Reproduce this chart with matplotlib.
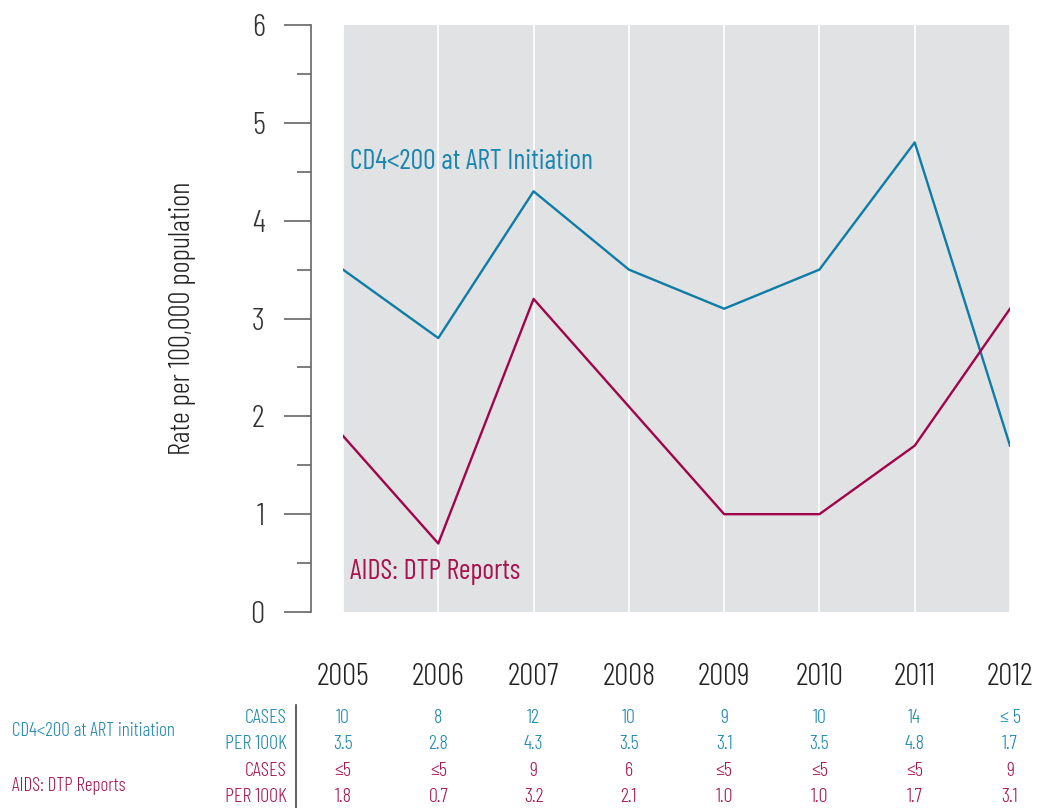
import matplotlib
matplotlib.use('Agg')
import matplotlib.pyplot as plt
import matplotlib.transforms as mtransforms
from matplotlib.ticker import MultipleLocator

plt.rcParams['font.family'] = ['Barlow Condensed', 'DejaVu Sans']
plt.rcParams['font.weight'] = 300

years = [2005, 2006, 2007, 2008, 2009, 2010, 2011, 2012]
cd4_rate = [3.5, 2.8, 4.3, 3.5, 3.1, 3.5, 4.8, 1.7]
aids_rate = [1.8, 0.7, 3.2, 2.1, 1.0, 1.0, 1.7, 3.1]
cd4_cases = ['10', '8', '12', '10', '9', '10', '14', '≤ 5']
cd4_per100k = ['3.5', '2.8', '4.3', '3.5', '3.1', '3.5', '4.8', '1.7']
aids_cases = ['≤5', '≤5', '9', '6', '≤5', '≤5', '≤5', '9']
aids_per100k = ['1.8', '0.7', '3.2', '2.1', '1.0', '1.0', '1.7', '3.1']

blue = '#0e7ca6'
blue_txt = '#1a86b0'
red = '#a0044a'
red_txt = '#a8124f'
W, H = 1037, 808

fig = plt.figure(figsize=(W / 100, H / 100), dpi=100)
ax = fig.add_axes([343 / W, (H - 612) / H, (1010 - 343) / W, (612 - 25) / H])
ax.set_facecolor('#e1e2e4')

ax.plot(years, cd4_rate, color=blue, lw=1.7)
ax.plot(years, aids_rate, color=red, lw=1.7)

ax.set_xlim(2005, 2012)
ax.set_ylim(0, 6)

for s in ['top', 'right', 'bottom']:
    ax.spines[s].set_visible(False)
ax.spines['left'].set_position(('outward', 23))
ax.spines['left'].set_color('#666666')
ax.spines['left'].set_linewidth(1.2)

ax.yaxis.set_major_locator(MultipleLocator(1))
ax.yaxis.set_minor_locator(MultipleLocator(0.5))
ax.tick_params(axis='y', which='major', length=19.5, width=1.2, color='#666666',
               labelsize=23, pad=14, labelcolor='#333333')
ax.tick_params(axis='y', which='minor', length=10, width=1.2, color='#666666')

ax.set_xticks(years)
ax.set_xticklabels([str(y) for y in years])
ax.tick_params(axis='x', length=0, labelsize=22.5, pad=37, labelcolor='#222222')
ax.grid(axis='x', color='white', lw=1.2)
ax.set_axisbelow(True)

fig.text(182 / W, (H - 318) / H, 'Rate per 100,000 population', fontsize=21,
         color='#222222', rotation=90, ha='center', va='center')

ax.text(2005.07, 4.6, 'CD4<200 at ART Initiation', color=blue_txt, fontsize=20.2,
        fontweight='normal', va='center')
ax.text(2005.07, 0.41, 'AIDS: DTP Reports', color=red_txt, fontsize=20.2,
        fontweight='normal', va='center')

# table below the chart
tr = mtransforms.blended_transform_factory(ax.transData, fig.transFigure)
rows = [(cd4_cases, 'CASES', blue_txt, 718), (cd4_per100k, 'PER 100K', blue_txt, 744),
        (aids_cases, 'CASES', red_txt, 771), (aids_per100k, 'PER 100K', red_txt, 797)]
for vals, lab, col, yp in rows:
    yf = (H - yp) / H
    fig.text(287 / W, yf, lab, color=col, fontsize=14.5, ha='right', va='center')
    for x, v in zip(years, vals):
        fig.text(x, yf, v, color=col, fontsize=14.5, ha='center', va='center', transform=tr)

fig.text(12 / W, (H - 731) / H, 'CD4<200 at ART initiation', color=blue_txt, fontsize=13.8, va='center')
fig.text(12 / W, (H - 786) / H, 'AIDS: DTP Reports', color=red_txt, fontsize=13.8, va='center')
fig.add_artist(plt.Line2D([296 / W, 296 / W], [0, (H - 705) / H], color='#444444', lw=1.2))

fig.savefig('out.png', dpi=100)
